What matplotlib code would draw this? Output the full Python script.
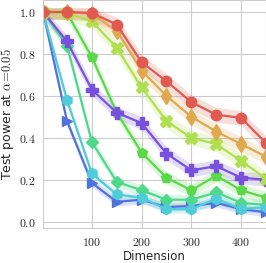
import matplotlib
matplotlib.use('Agg')
import matplotlib.pyplot as plt
import seaborn as sns
import numpy as np
from matplotlib.ticker import FuncFormatter

sns.set_style('whitegrid')
plt.rcParams['mathtext.fontset'] = 'cm'
plt.rcParams['font.family'] = ['DejaVu Sans']

dims = [2, 50, 100, 150, 200, 250, 300, 350, 400, 450]

# test power per method
red = [1.0, 1.0, 0.995, 0.94, 0.76, 0.67, 0.57, 0.51, 0.495, 0.375]
orange = [1.0, 1.0, 0.99, 0.91, 0.72, 0.60, 0.50, 0.43, 0.37, 0.31]
ygreen = [1.0, 0.995, 0.955, 0.83, 0.64, 0.48, 0.40, 0.37, 0.29, 0.205]
green = [1.0, 0.995, 0.785, 0.52, 0.33, 0.21, 0.15, 0.22, 0.15, 0.115]
purple = [1.0, 0.86, 0.63, 0.52, 0.47, 0.325, 0.245, 0.265, 0.21, 0.20]
teal = [1.0, 0.84, 0.38, 0.19, 0.15, 0.105, 0.105, 0.14, 0.09, 0.08]
cyan = [1.0, 0.58, 0.23, 0.13, 0.115, 0.06, 0.06, 0.11, 0.06, 0.07]
blue = [1.0, 0.48, 0.185, 0.095, 0.105, 0.07, 0.075, 0.09, 0.06, 0.045]

# half width of the shaded bands
spread = [0.035, 0.035, 0.035, 0.03, 0.03, 0.025, 0.02, 0.02]

series = [
    (blue, '#4f72dd', '>', 6.5),
    (teal, '#50d88a', 'D', 6),
    (cyan, '#50ccd8', 'h', 7.5),
    (green, '#5ad84a', 'p', 7.5),
    (purple, '#7750dd', 'P', 8),
    (ygreen, '#b0e04f', 'X', 8),
    (orange, '#e0a84f', 'd', 8),
    (red, '#e05a4f', 'o', 7.5),
]
bands = [spread[7], spread[5], spread[6], spread[3], spread[4], spread[2], spread[1], spread[0]]

fig = plt.figure(figsize=(2.66, 2.63), dpi=100)
ax = fig.add_axes([0.162, 0.133, 0.838, 0.867])

x = np.array(dims)
for (vals, col, mk, ms), b in zip(series, bands):
    v = np.array(vals)
    ax.fill_between(x, np.clip(v - b, 0, 1.02), np.clip(v + b, 0, 1.02), color=col, alpha=0.2, lw=0)
    ax.plot(x, v, color=col, marker=mk, markersize=ms, lw=1.6)

ax.set_xlim(2, 450)
ax.set_ylim(-0.03, 1.057)
ax.set_xticks([100, 200, 300, 400])
ax.set_yticks([0.0, 0.2, 0.4, 0.6, 0.8, 1.0])
ax.xaxis.set_major_formatter(FuncFormatter(lambda v, p: r'$%d$' % v))
ax.yaxis.set_major_formatter(FuncFormatter(lambda v, p: r'$%.1f$' % v))
ax.tick_params(labelsize=8.5, pad=2)
ax.set_xlabel('Dimension', fontsize=8.5, labelpad=1)
ax.set_ylabel(r'Test power at $\alpha\!=\!0.05$', fontsize=9, labelpad=2)
for s in ax.spines.values():
    s.set_color('#cccccc')

fig.savefig('out.png', dpi=100)
